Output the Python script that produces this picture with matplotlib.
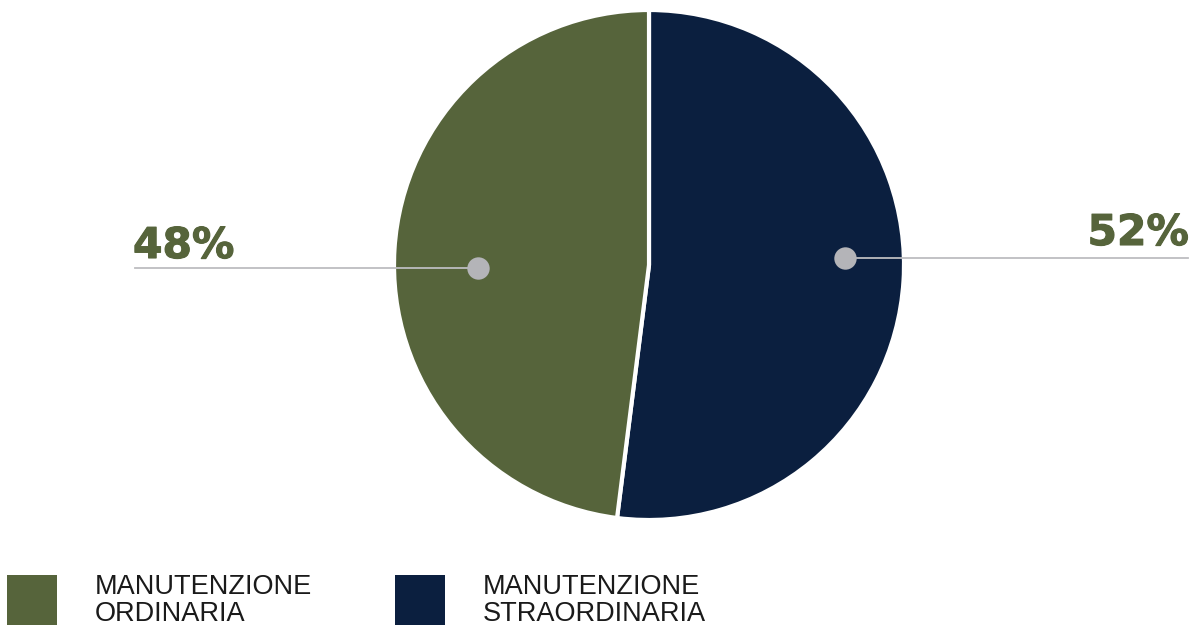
import matplotlib.pyplot as plt
import matplotlib.patheffects as pe
from matplotlib.patches import Rectangle

labels = ["MANUTENZIONE\nSTRAORDINARIA", "MANUTENZIONE\nORDINARIA"]
values = [52, 48]
colors = ["#0B1F3F", "#56643B"]

W, H = 1192, 628
plt.rcParams["font.family"] = ["Liberation Sans", "DejaVu Sans"]

fig = plt.figure(figsize=(W / 100, H / 100), dpi=100)
ax = fig.add_axes([0, 0, 1, 1])

cx, cy, r = 649, H - 265, 255
ax.pie(values, colors=colors, startangle=90, counterclock=False,
       center=(cx, cy), radius=r, frame=True,
       wedgeprops=dict(edgecolor="white", linewidth=3))
ax.set_xlim(0, W)
ax.set_ylim(0, H)
ax.set_aspect("equal")
ax.axis("off")

# leader lines with dots
line_c = "#BDBDC0"
dot_c = "#B4B4B8"
pct_c = "#56643B"
pct_font = dict(family="DejaVu Sans", fontsize=30.5, fontweight="bold", color=pct_c,
                path_effects=[pe.withStroke(linewidth=0.8, foreground=pct_c)])
# right: straordinaria
ax.plot([845, 1188], [H - 258, H - 258], color=line_c, lw=1.3, zorder=3)
ax.scatter([845], [H - 258], s=260, color=dot_c, zorder=4, linewidths=0)
ax.text(1189, H - 245, f"{values[0]}%", ha="right", va="baseline", **pct_font)
# left: ordinaria
ax.plot([135, 478], [H - 268, H - 268], color=line_c, lw=1.3, zorder=3)
ax.scatter([478], [H - 268], s=260, color=dot_c, zorder=4, linewidths=0)
ax.text(133, H - 258, f"{values[1]}%", ha="left", va="baseline", **pct_font)

# legend
legend_items = [(7, 95, colors[1], labels[1]), (395, 483, colors[0], labels[0])]
for sx, tx, c, lab in legend_items:
    ax.add_patch(Rectangle((sx, H - 625), 50, 50, color=c, lw=0))
    ax.text(tx, H - 574, lab, ha="left", va="top", fontsize=19.5,
            color="#1A1A1A", linespacing=1.03)

fig.savefig("out.png", dpi=100)
